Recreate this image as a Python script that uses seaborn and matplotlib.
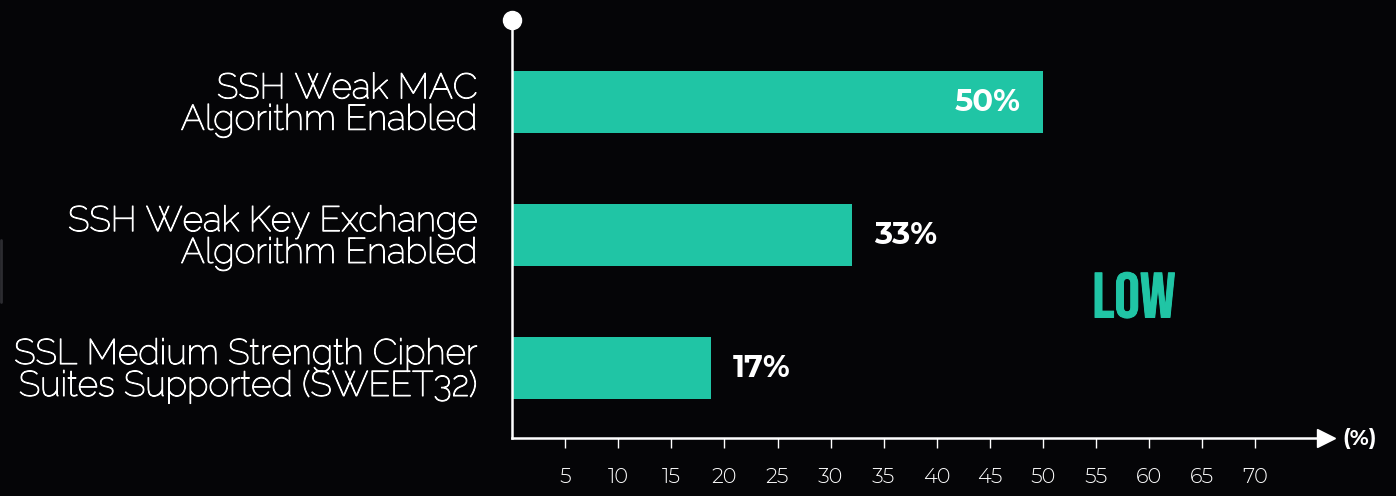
import pandas as pd
import seaborn as sns
import matplotlib.pyplot as plt
import matplotlib.patheffects as pe

categories = ["SSH Weak MAC\nAlgorithm Enabled",
              "SSH Weak Key Exchange\nAlgorithm Enabled",
              "SSL Medium Strength Cipher\nSuites Supported (SWEET32)"]
bar_lengths = [50, 32, 18.7]
value_labels = ["50%", "33%", "17%"]
x_ticks = [5, 10, 15, 20, 25, 30, 35, 40, 45, 50, 55, 60, 65, 70]

teal = "#20C5A5"
bg = "#050507"
label_font = ["Raleway", "DejaVu Sans"]
num_font = ["Montserrat Alternates", "DejaVu Sans"]

df = pd.DataFrame({"issue": categories, "pct": bar_lengths})

sns.set_style("dark")
plt.rcParams["font.family"] = num_font

fig = plt.figure(figsize=(13.96, 4.96), dpi=100, facecolor=bg)
ax = fig.add_axes([512 / 1396, 0.1169, (1326 - 512) / 1396, 0.8427])
ax.set_facecolor(bg)

sns.barplot(data=df, x="pct", y="issue", orient="h", color=teal,
            saturation=1, width=0.47, linewidth=0, ax=ax)

ax.set_xlim(0, (1326 - 512) / 10.62)
ax.set_ylim(2.526, -0.617)
ax.set_xlabel("")
ax.set_ylabel("")
ax.grid(False)

for s in ["top", "right"]:
    ax.spines[s].set_visible(False)
for s in ["left", "bottom"]:
    ax.spines[s].set_color("white")
    ax.spines[s].set_linewidth(1.8)

ax.set_xticks(x_ticks)
ax.tick_params(axis="x", colors="white", length=7.5, width=1, pad=14,
               labelsize=15, direction="out", bottom=True)
for lab in ax.get_xticklabels():
    lab.set_fontweight(300)
ax.tick_params(axis="y", length=0, pad=25, labelcolor="white")
for lab in ax.get_yticklabels():
    lab.set_family(label_font)
    lab.set_fontsize(25.5)
    lab.set_linespacing(0.92)
    lab.set_path_effects([pe.withStroke(linewidth=0.75, foreground="white")])

# circle on top of the y axis, arrow at end of the x axis
ax.plot([0], [1], marker="o", markersize=13, color="white",
        transform=ax.transAxes, clip_on=False)
ax.plot([1], [0], marker=">", markersize=13, color="white",
        transform=ax.transAxes, clip_on=False)
ax.text(1.02, 0, "(%)", transform=ax.transAxes, color="white",
        fontsize=15.5, fontweight="bold", va="center", ha="left")

# value labels
for i, (v, lab) in enumerate(zip(bar_lengths, value_labels)):
    if v >= 45:
        ax.annotate(lab, (v, i), xytext=(-16, 0), textcoords="offset points",
                    ha="right", va="center", color="white", fontsize=22,
                    fontweight="bold")
    else:
        ax.annotate(lab, (v, i), xytext=(16, 0), textcoords="offset points",
                    ha="left", va="center", color="white", fontsize=22,
                    fontweight="bold")

fig.text(1134 / 1396, 1 - 295 / 496, "LOW", color=teal, fontsize=46,
         family=["Bebas Neue", "DejaVu Sans"], ha="center", va="center",
         path_effects=[pe.withStroke(linewidth=0.7, foreground=teal)])

# small grey mark at the left edge
fig.add_artist(plt.Line2D([0.001, 0.001], [1 - 240 / 496, 1 - 302 / 496],
                          color="#2c2c30", linewidth=2))

fig.savefig("out.png", dpi=100, facecolor=bg)
